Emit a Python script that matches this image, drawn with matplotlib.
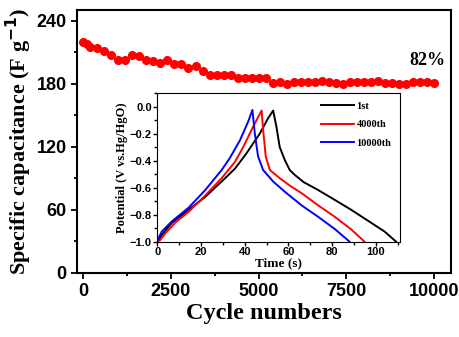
import matplotlib
matplotlib.use('Agg')
import matplotlib.pyplot as plt
from matplotlib.ticker import MultipleLocator

# cycling data (main panel)
cycles = [1, 100, 200] + list(range(400, 10001, 200))
capacitance = [220, 218, 214.5, 214, 211.5, 207.5, 203, 203, 207, 206.5,
               203, 201.5, 200, 202.7, 198.6, 198.6, 195, 196.7, 192, 188,
               188, 188, 188, 185.4, 185.4, 185.4, 185.4, 185.4, 181, 182,
               179.4, 181.3, 182, 182, 181.7, 182.5, 182, 181, 180, 182,
               181.7, 181.7, 182, 182.3, 181, 180.3, 179.4, 179.4, 181.3, 182,
               181.3, 180.3]

# charge/discharge curves (inset)
t_1st = [0, 2, 6.6, 14.2, 21.8, 29.4, 35.5, 40.8, 46.9, 50.7, 53, 54.5, 56, 58.3,
         60.6, 62.9, 67, 73.5, 81.1, 88.8, 96.4, 104, 109.3]
v_1st = [-1.0, -0.95, -0.86, -0.765, -0.67, -0.555, -0.46, -0.346, -0.2, -0.086,
         -0.03, -0.15, -0.30, -0.395, -0.47, -0.506, -0.56, -0.617, -0.69, -0.765,
         -0.845, -0.925, -1.0]
t_4000 = [0, 1.2, 3.5, 8.1, 14.2, 21.8, 29.4, 35.5, 39.3, 43.8, 47.7, 48.4, 49.6,
          51.5, 56, 60.6, 65.9, 73.5, 81.1, 88.8, 94.8]
v_4000 = [-1.0, -0.99, -0.94, -0.86, -0.78, -0.66, -0.53, -0.41, -0.30, -0.15,
          -0.03, -0.17, -0.37, -0.47, -0.53, -0.585, -0.64, -0.73, -0.815, -0.91, -1.0]
t_10000 = [0, 2, 6.6, 14.2, 21.8, 29.4, 33.2, 37.8, 41.6, 43.5, 44.6, 46.1, 48.4,
           53, 58.3, 65.9, 73.5, 81.1, 88]
v_10000 = [-0.99, -0.925, -0.85, -0.75, -0.62, -0.47, -0.38, -0.25, -0.11, -0.025,
           -0.2, -0.37, -0.47, -0.555, -0.63, -0.73, -0.815, -0.905, -1.0]

serif = 'Liberation Serif'
sans = 'Liberation Sans'

fig = plt.figure(figsize=(4.59, 3.37), dpi=100)
ax = fig.add_axes([0.168, 0.19, 0.815, 0.78])
ax.plot(cycles, capacitance, 'o', color='#ff0000', markersize=5.5)
ax.set_xlim(-180, 10500)
ax.set_ylim(0, 250)
ax.xaxis.set_major_locator(MultipleLocator(2500))
ax.xaxis.set_minor_locator(MultipleLocator(1250))
ax.yaxis.set_major_locator(MultipleLocator(60))
ax.yaxis.set_minor_locator(MultipleLocator(30))
ax.tick_params(which='both', direction='out', width=1.3)
ax.tick_params(which='major', length=4)
ax.tick_params(which='minor', length=2.5)
for lab in ax.get_xticklabels() + ax.get_yticklabels():
    lab.set_fontfamily(sans)
    lab.set_fontweight('bold')
    lab.set_fontsize(13)
for s in ax.spines.values():
    s.set_linewidth(1.5)
ax.set_xlabel('Cycle numbers', fontfamily=serif, fontweight='bold', fontsize=17.5, labelpad=2)
ax.set_ylabel('Specific capacitance (F g$^{\\mathbf{-1}}$)', fontfamily=serif,
              fontweight='bold', fontsize=16, labelpad=2)
ax.text(9820, 202, '82%', fontfamily=serif, fontweight='bold', fontsize=13,
        ha='center', va='center')

ins = fig.add_axes([0.343, 0.283, 0.528, 0.441])
ins.plot(t_1st, v_1st, color='black', lw=1.4, label='1st')
ins.plot(t_4000, v_4000, color='#ff0000', lw=1.4, label='4000th')
ins.plot(t_10000, v_10000, color='#0000ff', lw=1.4, label='10000th')
ins.set_xlim(0, 111)
ins.set_ylim(-1.0, 0.1)
ins.xaxis.set_major_locator(MultipleLocator(20))
ins.xaxis.set_minor_locator(MultipleLocator(10))
ins.yaxis.set_major_locator(MultipleLocator(0.2))
ins.yaxis.set_minor_locator(MultipleLocator(0.1))
ins.tick_params(which='both', direction='out', width=1, pad=1)
ins.tick_params(which='major', length=3)
ins.tick_params(which='minor', length=2)
for lab in ins.get_xticklabels() + ins.get_yticklabels():
    lab.set_fontfamily(sans)
    lab.set_fontweight('bold')
    lab.set_fontsize(8)
ins.set_xlabel('Time (s)', fontfamily=serif, fontweight='bold', fontsize=9.5, labelpad=0)
ins.set_ylabel('Potential (V vs.Hg/HgO)', fontfamily=serif, fontweight='bold', fontsize=9, labelpad=1)
ins.legend(loc='upper right', frameon=False, prop={'family': serif, 'weight': 'bold', 'size': 7.5},
           handlelength=3.2, labelspacing=0.9, handletextpad=0.2, borderaxespad=0.4)

fig.savefig('out.png', dpi=100)
